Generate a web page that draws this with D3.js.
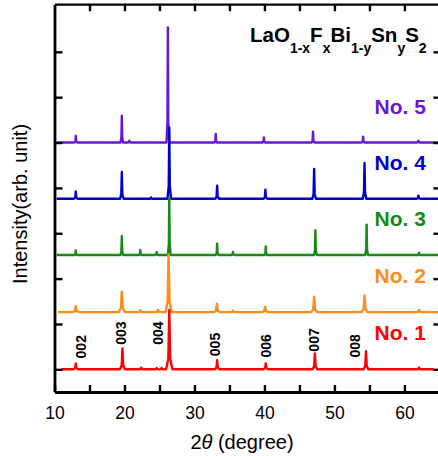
<!DOCTYPE html>
<html><head><meta charset="utf-8">
<script src="https://cdn.jsdelivr.net/npm/d3@7"></script>
<style>body{margin:0;background:#fff} svg{display:block} text{font-family:"Liberation Sans",Arial,Helvetica,sans-serif}</style>
</head><body><svg id="c" width="438" height="456"></svg>
<script>
// ---- data ----
const seriesNames = ["No. 1", "No. 2", "No. 3", "No. 4", "No. 5"];
const seriesColors = ["#ff0000", "#ff8c1a", "#168a16", "#0000cc", "#6a16d6"];
const seriesOffsets = [0, 1.26, 2.52, 3.76, 5.0];
const seriesStart = [11.0, 10.5, 10.3, 10.3, 10.3];
const seriesEnd = [64.2, 65, 65, 65, 65];
const peakWidths = [0.35, 0.45, 0.2, 0.25, 0.2];
// peaks: [2theta, height(, half-base width)]
const peaksNo1 = [[13.04,0.13],[19.71,0.46],[22.4,0.04],[24.6,0.03],[25.3,0.03],[26.40,1.31,0.45],[33.24,0.20],[40.19,0.13],[47.21,0.35],[54.51,0.40],[62.1,0.04]];
const peaksNo2 = [[13.04,0.13],[19.62,0.45],[22.25,0.04],[24.8,0.05],[26.30,1.27],[33.2,0.18],[35.5,0.03],[40.1,0.12],[47.1,0.34],[54.3,0.37],[62.1,0.05]];
const peaksNo3 = [[13.04,0.10],[19.62,0.42],[22.25,0.11],[24.6,0.07],[26.40,1.27],[33.24,0.25],[35.5,0.07],[40.19,0.19],[47.28,0.55],[54.6,0.67],[62.1,0.05]];
const peaksNo4 = [[13.04,0.16],[19.62,0.59],[23.8,0.03],[26.40,1.57],[33.24,0.29],[40.14,0.20],[47.1,0.66],[54.3,0.79],[62.0,0.07]];
const peaksNo5 = [[13.04,0.15],[19.62,0.59],[20.7,0.04],[26.20,2.54],[33.04,0.19],[39.92,0.11],[46.94,0.24],[54.1,0.13],[62.0,0.04]];
const seriesPeaks = [peaksNo1, peaksNo2, peaksNo3, peaksNo4, peaksNo5];
const reflLabels = ["002", "003", "004", "005", "006", "007", "008"];
const reflX = [13.75, 19.57, 24.73, 32.9, 40.16, 47.03, 52.9];
const reflY = [0.24, 0.54, 0.54, 0.29, 0.26, 0.39, 0.26];
const xTicks = [10, 15, 20, 25, 30, 35, 40, 45, 50, 55, 60];
const xTickLabels = ["10", "", "20", "", "30", "", "40", "", "50", "", "60"];
const yTicks = [0, 1, 2, 3, 4, 5, 6, 7];

// ---- layout ----
const svg = d3.select("#c");
const x = d3.scaleLinear().domain([10, 65]).range([54.5, 439.4]);
const y = d3.scaleLinear().domain([-0.5, 8.05]).range([392, 4.2]);

// series
const line = d3.line().x(d => x(d[0])).y(d => y(d[1]));
for (let i = seriesNames.length - 1; i >= 0; i--) {
  const off = seriesOffsets[i];
  const pts = [[seriesStart[i], off]];
  seriesPeaks[i].forEach(p => {
    const w = p[2] || peakWidths[i];
    pts.push([p[0] - w, off], [p[0] - w * 0.3, off + p[1] * 0.18], [p[0], off + p[1]],
             [p[0] + w * 0.3, off + p[1] * 0.18], [p[0] + w, off]);
  });
  pts.push([seriesEnd[i], off]);
  svg.append("path").attr("d", line(pts)).attr("fill", "none")
    .attr("stroke", seriesColors[i]).attr("stroke-width", 2.4).attr("stroke-linejoin", "round");
  svg.append("text").attr("x", x(63.08)).attr("y", y(off + 0.64))
    .attr("text-anchor", "end").attr("font-size", 21).attr("font-weight", "bold")
    .attr("fill", seriesColors[i]).text(seriesNames[i]);
}

// reflection labels
reflLabels.forEach((t, i) => {
  svg.append("text").attr("transform", `translate(${x(reflX[i]) + 5},${y(reflY[i])}) rotate(-90)`)
    .attr("font-size", 14).attr("font-weight", "bold").attr("fill", "#000").text(t);
});

// axes
function styleAxis(g, w) {
  g.select(".domain").attr("stroke", "#000").attr("stroke-width", w);
  g.selectAll(".tick line").attr("stroke", "#000").attr("stroke-width", 2.4);
}
const gb = svg.append("g").attr("transform", `translate(0,${y(-0.5)})`)
  .call(d3.axisBottom(x).tickValues(xTicks).tickSize(-7).tickSizeOuter(0)
    .tickFormat((d, i) => xTickLabels[i]));
styleAxis(gb, 2.8);
gb.selectAll(".tick text").attr("y", 27).attr("dy", 0).attr("font-size", 17.5)
  .attr("fill", "#000").attr("font-family", '"Liberation Sans",Arial,sans-serif');
const gt = svg.append("g").attr("transform", `translate(0,${y(8.05)})`)
  .call(d3.axisTop(x).tickValues(xTicks.slice(1)).tickSize(-7).tickSizeOuter(0).tickFormat(""));
styleAxis(gt, 2.2);
const gl = svg.append("g").attr("transform", `translate(${x(10)},0)`)
  .call(d3.axisLeft(y).tickValues(yTicks).tickSize(-8).tickSizeOuter(0).tickFormat(""));
styleAxis(gl, 2.8);
const gr = svg.append("g").attr("transform", `translate(${x(65)},0)`)
  .call(d3.axisRight(y).tickValues(yTicks).tickSize(-6).tickSizeOuter(0).tickFormat(""));
styleAxis(gr, 2.8);

// axis titles
const xt = svg.append("text").attr("x", 242).attr("y", 449).attr("text-anchor", "middle")
  .attr("font-size", 20).attr("fill", "#000");
xt.append("tspan").text("2");
xt.append("tspan").attr("font-style", "italic").text("θ");
xt.append("tspan").text(" (degree)");
svg.append("text").attr("transform", "translate(26.5,204) rotate(-90)").attr("text-anchor", "middle")
  .attr("font-size", 20).attr("fill", "#000").text("Intensity(arb. unit)");

// formula title
const ft = svg.append("text").attr("x", 250).attr("y", 41.7).attr("font-weight", "bold")
  .attr("font-size", 20.5).attr("fill", "#000");
const parts = [["LaO", 0], ["1-x", 1], ["F", 0], ["x", 1], ["Bi", 0], ["1-y", 1], ["Sn", 0], ["y", 1], ["S", 0], ["2", 1]];
let cur = 0;
parts.forEach(([t, sub]) => {
  const target = sub ? 11 : 0;
  ft.append("tspan").attr("dy", target - cur).attr("font-size", sub ? 14 : 20.5).text(t);
  cur = target;
});
</script></body></html>
